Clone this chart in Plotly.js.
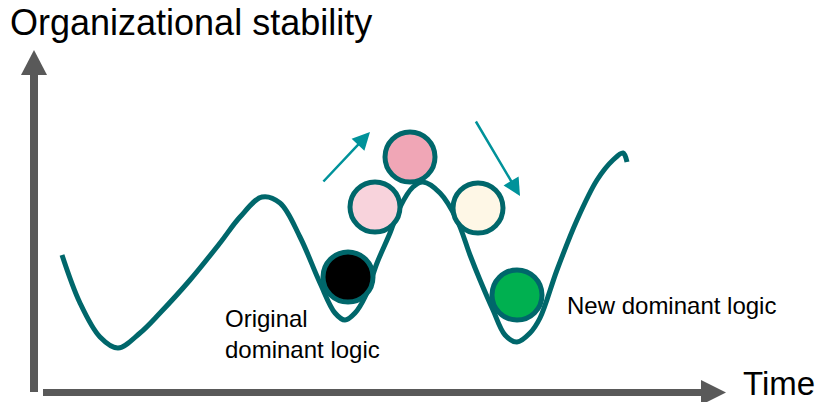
<!DOCTYPE html>
<html>
<head>
<meta charset="utf-8">
<script src="https://cdn.plot.ly/plotly-3.0.1.min.js"></script>
<style>html,body{margin:0;padding:0;background:#fff;}#chart{width:823px;height:402px;}</style>
</head>
<body>
<div id="chart"></div>
<script>
// Stability landscape curve (time vs. stability, in picture units, y grows downward)
const curveX = [62, 80, 100, 118, 140, 160, 190, 220, 240, 262, 280, 300, 320, 335, 345, 355, 365, 377, 390, 400, 413, 423, 440, 457, 470, 480, 493, 505, 517, 530, 540, 557, 577, 597, 613, 623, 627];
const curveY = [255, 303, 337, 348, 333, 313, 280, 243, 217, 197, 203, 237, 283, 313, 320, 313, 297, 263, 233, 207, 187, 182, 193, 220, 255, 280, 310, 335, 342, 333, 318, 270, 220, 180, 160, 153, 162];

// Balls (states of the organization)
const ballX = [348, 375, 410, 478, 517];
const ballY = [277, 207, 157, 208, 295];
const ballColors = ['#000000', '#F8D3DC', '#F0A6B6', '#FEF7E6', '#00B050'];

// Labels
const titleText = 'Organizational stability';
const timeText = 'Time';
const origLabel = 'Original<br>dominant logic';
const newLabel = 'New dominant logic';

// Motion arrows [tailX, tailY, headX, headY]
const moveArrows = [[322, 183, 370, 132], [475, 120, 520, 196]];

const TEAL = '#00676B';
const ARROW_TEAL = '#00929A';
const GREY = '#595959';
const FONT = 'Liberation Sans, Arial, sans-serif';

const traces = [
  {
    x: curveX, y: curveY, type: 'scatter', mode: 'lines',
    line: {color: TEAL, width: 5, shape: 'spline', smoothing: 1},
    hoverinfo: 'skip', showlegend: false
  },
  {
    x: ballX, y: ballY, type: 'scatter', mode: 'markers',
    marker: {size: 50, color: ballColors, line: {color: TEAL, width: 5}},
    hoverinfo: 'skip', showlegend: false
  }
];

const annotations = [
  {x: 8, y: 22, xref: 'x', yref: 'y', text: titleText, showarrow: false, xanchor: 'left', yanchor: 'middle', font: {family: FONT, size: 36, color: '#000'}},
  {x: 741, y: 383, xref: 'x', yref: 'y', text: timeText, showarrow: false, xanchor: 'left', yanchor: 'middle', font: {family: FONT, size: 33, color: '#000'}},
  {x: 223, y: 334, xref: 'x', yref: 'y', text: origLabel, showarrow: false, xanchor: 'left', yanchor: 'middle', align: 'left', font: {family: FONT, size: 24, color: '#000'}},
  {x: 565, y: 305, xref: 'x', yref: 'y', text: newLabel, showarrow: false, xanchor: 'left', yanchor: 'middle', align: 'left', font: {family: FONT, size: 24, color: '#000'}}
];
moveArrows.forEach(a => {
  annotations.push({
    x: a[2], y: a[3], ax: a[0], ay: a[1], xref: 'x', yref: 'y', axref: 'x', ayref: 'y',
    text: '', showarrow: true, arrowhead: 2, arrowsize: 1.4, arrowwidth: 2.5, arrowcolor: ARROW_TEAL
  });
});

const shapes = [
  {type: 'line', xref: 'x', yref: 'y', x0: 34, y0: 392, x1: 34, y1: 72, line: {color: GREY, width: 8}},
  {type: 'path', xref: 'x', yref: 'y', path: 'M 21 75 L 47 75 L 34 50 Z', fillcolor: GREY, line: {width: 0}},
  {type: 'line', xref: 'x', yref: 'y', x0: 43, y0: 392.5, x1: 703, y1: 392.5, line: {color: GREY, width: 7}},
  {type: 'path', xref: 'x', yref: 'y', path: 'M 701 380 L 701 405 L 726 392.5 Z', fillcolor: GREY, line: {width: 0}}
];

const layout = {
  width: 823, height: 402,
  margin: {l: 0, r: 0, t: 0, b: 0},
  paper_bgcolor: '#ffffff', plot_bgcolor: '#ffffff',
  xaxis: {range: [0, 823], visible: false, fixedrange: true},
  yaxis: {range: [402, 0], visible: false, fixedrange: true},
  shapes: shapes,
  annotations: annotations,
  showlegend: false
};

Plotly.newPlot('chart', traces, layout, {displayModeBar: false, staticPlot: true});
</script>
</body>
</html>
